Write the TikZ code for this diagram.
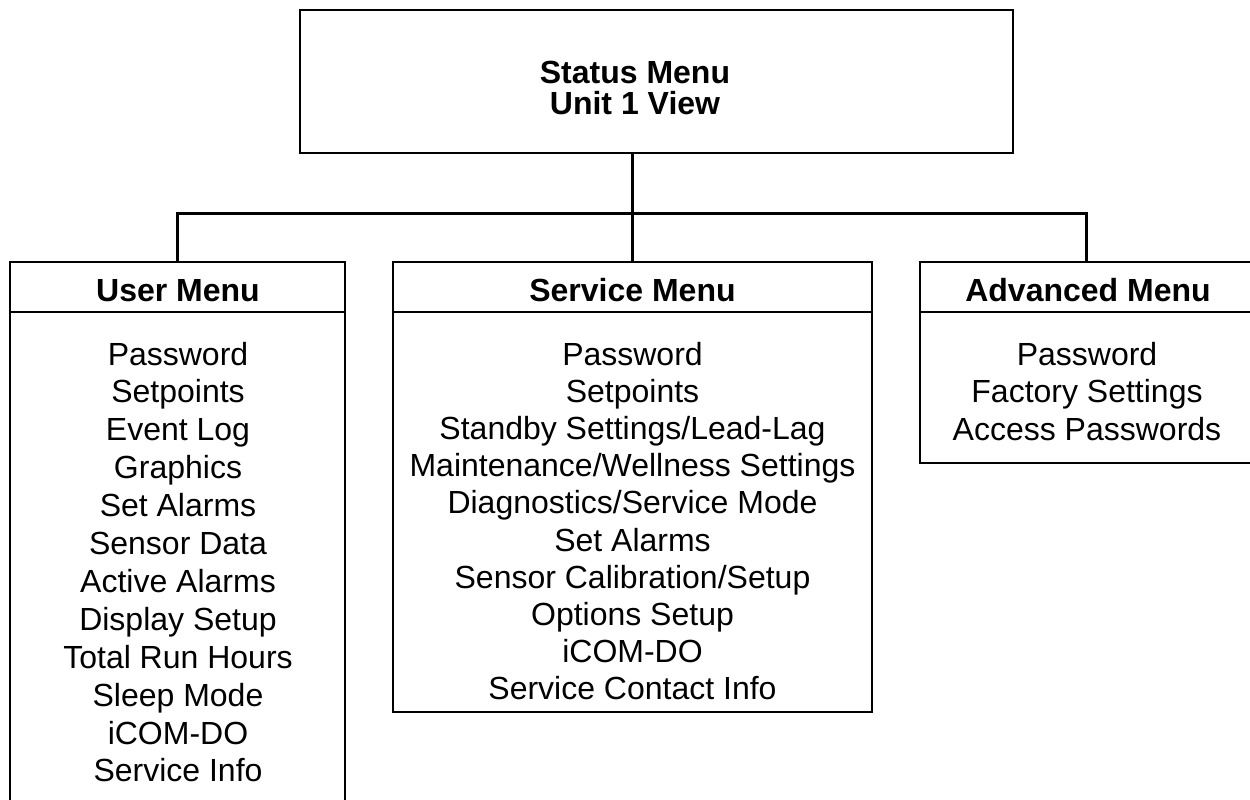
\documentclass[tikz,border=0pt]{standalone}
\usepackage{fontspec}
\setmainfont{Liberation Sans}
\begin{document}
\begin{tikzpicture}[x=1pt,y=-1pt,
  boxstyle/.style={draw=black,line width=1.8pt,inner sep=0pt},
  conn/.style={draw=black,line width=3pt},
  ttl/.style={font=\fontsize{32}{38}\selectfont\bfseries,anchor=base,inner sep=0pt},
  itm/.style={font=\fontsize{32}{38}\selectfont,anchor=base,inner sep=0pt}]
\useasboundingbox (0,0) rectangle (1250,800);
\clip (0,0) rectangle (1250,800);
\fill[white] (0,0) rectangle (1250,800);
% boxes
\node[boxstyle,minimum width=713pt,minimum height=143pt] (status) at (656.5,81.5) {};
\node[boxstyle,minimum width=335pt,minimum height=560pt] (user) at (177.5,542) {};
\node[boxstyle,minimum width=479pt,minimum height=450pt] (svc) at (632.5,487) {};
\node[boxstyle,minimum width=332pt,minimum height=201pt] (adv) at (1086,362.5) {};
% title dividers
\draw[line width=1.8pt] (user.west |- 0,312) -- (user.east |- 0,312);
\draw[line width=1.8pt] (svc.west |- 0,312) -- (svc.east |- 0,312);
\draw[line width=1.8pt] (adv.west |- 0,312) -- (adv.east |- 0,312);
% connectors
\coordinate (bar) at (632.5,213);
\draw[conn] (svc.north |- status.south) -- (svc.north);
\draw[conn] (user.north) |- (bar) -| (adv.north);
% status text
\node[ttl] (s1) at (635,83) {Status Menu};
\node[ttl] (s2) at (635,114) {Unit 1 View};
% titles
\node[ttl] (ut) at (178,301) {User Menu};
\node[ttl] (st) at (632.5,301) {Service Menu};
\node[ttl] (at) at (1088,301) {Advanced Menu};
% user items
\foreach \t [count=\i from 0] in {Password,Setpoints,Event Log,Graphics,Set Alarms,Sensor Data,Active Alarms,Display Setup,Total Run Hours,Sleep Mode,iCOM-DO,Service Info}
  \node[itm] (u\i) at (178,365+37.9*\i) {\t};
% service items
\foreach \t [count=\i from 0] in {Password,Setpoints,Standby Settings/Lead-Lag,Maintenance/Wellness Settings,Diagnostics/Service Mode,Set Alarms,Sensor Calibration/Setup,Options Setup,iCOM-DO,Service Contact Info}
  \node[itm] (v\i) at (632.5,365+37.2*\i) {\t};
% advanced items
\foreach \t [count=\i from 0] in {Password,Factory Settings,Access Passwords}
  \node[itm] (a\i) at (1087,365+37.6*\i) {\t};
\end{tikzpicture}
\end{document}
